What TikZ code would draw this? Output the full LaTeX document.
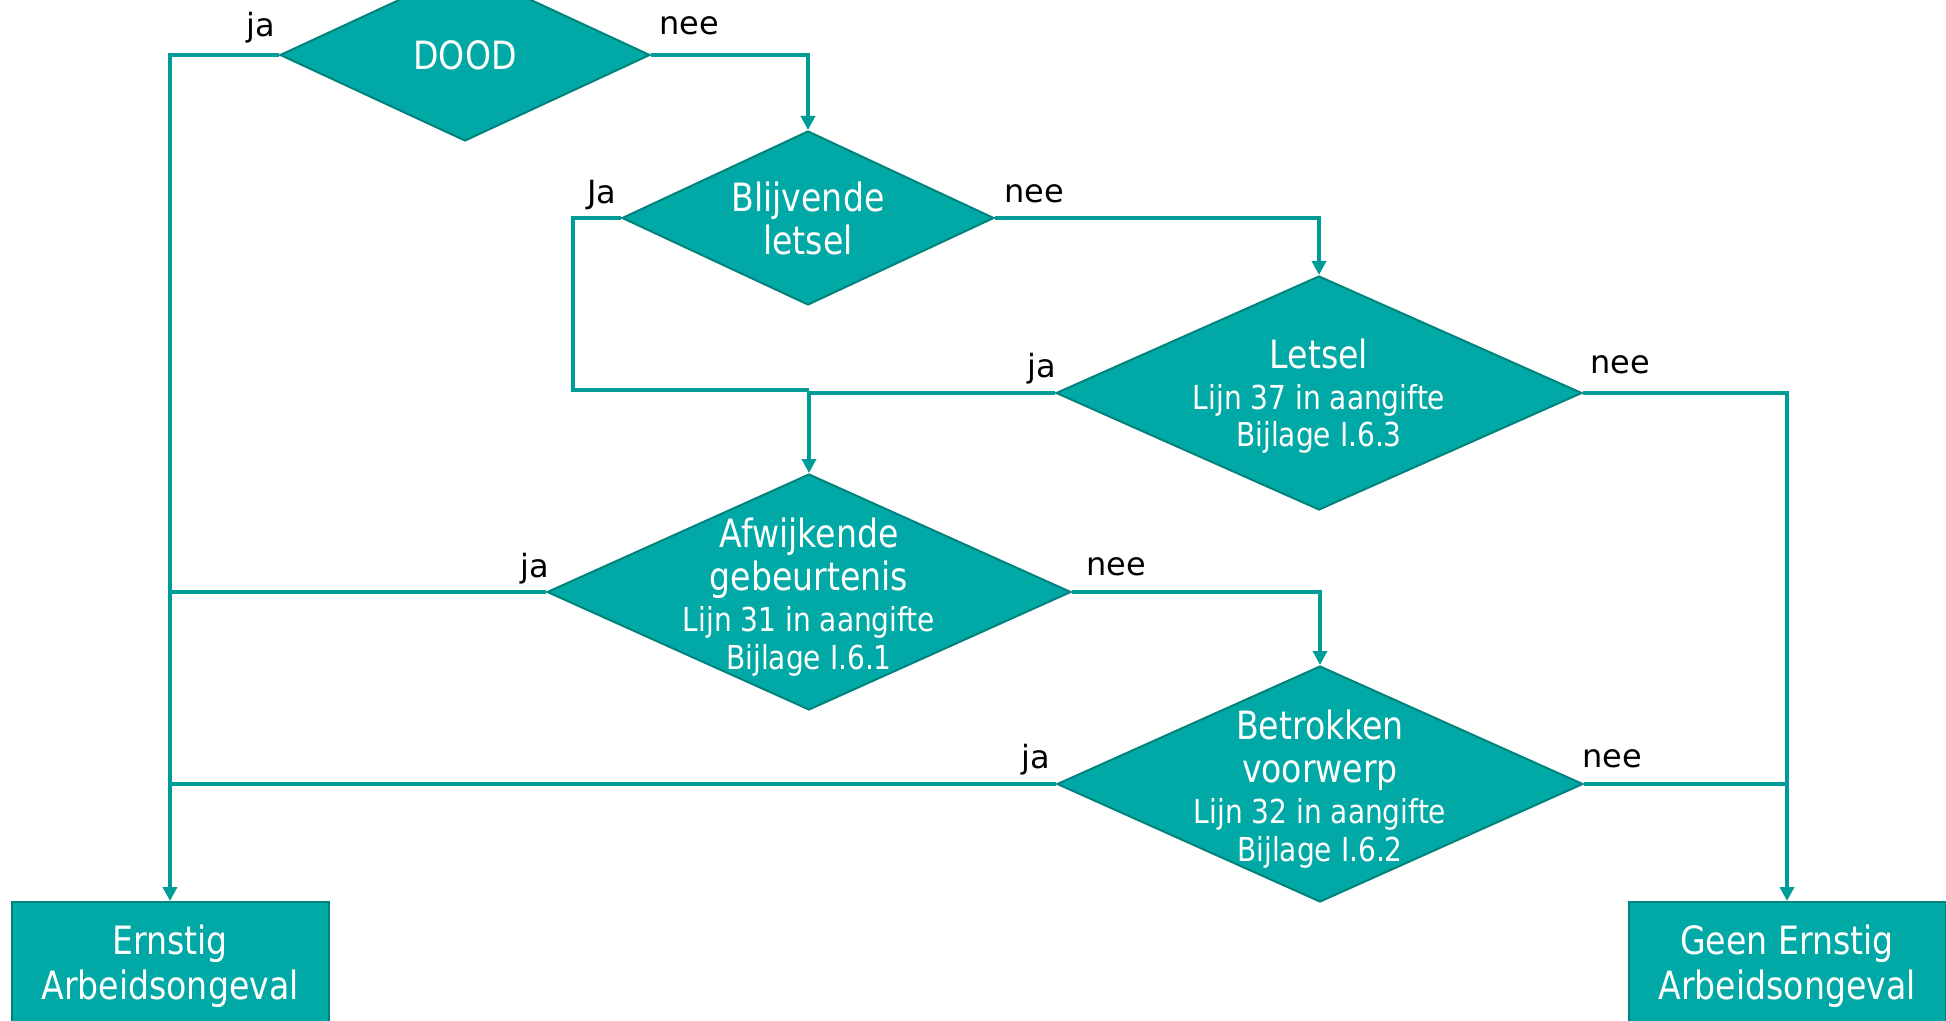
\documentclass[tikz,border=0pt]{standalone}
\usepackage{fontspec}
\setmainfont{DejaVu Sans}
\newfontfamily\condfont{DejaVu Sans}[FakeStretch=0.85]
\usetikzlibrary{shapes.geometric,arrows.meta}
\definecolor{tealfill}{HTML}{00A9A5}
\definecolor{tealedge}{HTML}{00827D}
\definecolor{tealline}{HTML}{009C98}
\newcommand{\bigtxt}{\condfont\fontsize{19.5}{21.5}\selectfont}
\newcommand{\smalltxt}{\condfont\fontsize{16.5}{19}\selectfont}
\tikzset{
	question/.style={diamond, fill=tealfill, draw=tealedge, line width=1pt, inner sep=0pt},
	outcome/.style={rectangle, fill=tealfill, draw=tealedge, line width=1pt, anchor=north,
		minimum width=158.5pt, minimum height=63pt, inner sep=0pt},
	inside/.style={text=white, align=center, font=\bigtxt},
	answer/.style={font=\fontsize{16}{19}\selectfont, text=black},
	flow/.style={draw=tealline, line width=1.7pt},
	arrow/.style={flow, -{Triangle[length=7pt,width=7pt]}}
}
\begin{document}
\begin{tikzpicture}[x=0.5pt,y=-0.5pt]
		\useasboundingbox (0,0) rectangle (1946,1021);
		
		\node[question, minimum width=185pt, minimum height=86pt, label={[inside]center:DOOD}] (dood) at (465,55) {};
		\node[question, minimum width=186pt, minimum height=87pt, label={[inside]center:Blijvende\\letsel}] (blijvend) at (808,218) {};
		\node[question, minimum width=263pt, minimum height=117pt,
			label={[inside,yshift=-1.5pt]center:Letsel\\[-1pt]\smalltxt Lijn 37 in aangifte\\[-2.7pt]\smalltxt Bijlage I.6.3}] (letsel) at (1319,393) {};
		\node[question, minimum width=262pt, minimum height=118pt,
			label={[inside,yshift=-2.5pt]center:Afwijkende\\gebeurtenis\\[-1pt]\smalltxt Lijn 31 in aangifte\\[-2.3pt]\smalltxt Bijlage I.6.1}] (afwijkend) at (809,592) {};
		\node[question, minimum width=263pt, minimum height=118pt,
			label={[inside,yshift=-2.5pt]center:Betrokken\\voorwerp\\[-1pt]\smalltxt Lijn 32 in aangifte\\[-2.3pt]\smalltxt Bijlage I.6.2}] (betrokken) at (1320,784) {};
		
		\node[outcome, label={[inside,yshift=-0.5pt]center:Ernstig\\[1pt]Arbeidsongeval}] (ernstig) at (170,901) {};
		\node[outcome, label={[inside,yshift=-0.5pt]center:Geen Ernstig\\[1pt]Arbeidsongeval}] (geen) at (1787,901) {};
		
		\node[answer] (jaDood) at (261,28) {ja};
		\node[answer] (neeDood) at (689,26) {nee};
		\node[answer] (jaBlijvend) at (602,195) {Ja};
		\node[answer] (neeBlijvend) at (1034,194) {nee};
		\node[answer] (jaLetsel) at (1042,369) {ja};
		\node[answer] (neeLetsel) at (1620,365) {nee};
		\node[answer] (jaAfwijkend) at (535,569) {ja};
		\node[answer] (neeAfwijkend) at (1116,567) {nee};
		\node[answer] (jaBetrokken) at (1036,760) {ja};
		\node[answer] (neeBetrokken) at (1612,759) {nee};
		
		\coordinate (knik) at (573,390);
		\draw[arrow] (dood.west) -| (ernstig.north);
		\draw[arrow] (dood.east) -| (blijvend.north);
		\draw[flow] (blijvend.west) -| (knik) -- (knik -| afwijkend.north);
		\draw[arrow] (blijvend.east) -| (letsel.north);
		\draw[arrow] (letsel.west) -| (afwijkend.north);
		\draw[arrow] (letsel.east) -| (geen.north);
		\draw[flow] (afwijkend.west) -- (afwijkend.west -| ernstig.north);
		\draw[arrow] (afwijkend.east) -| (betrokken.north);
		\draw[flow] (betrokken.west) -- (betrokken.west -| ernstig.north);
		\draw[flow] (betrokken.east) -- (betrokken.east -| geen.north);
\end{tikzpicture}
\end{document}
